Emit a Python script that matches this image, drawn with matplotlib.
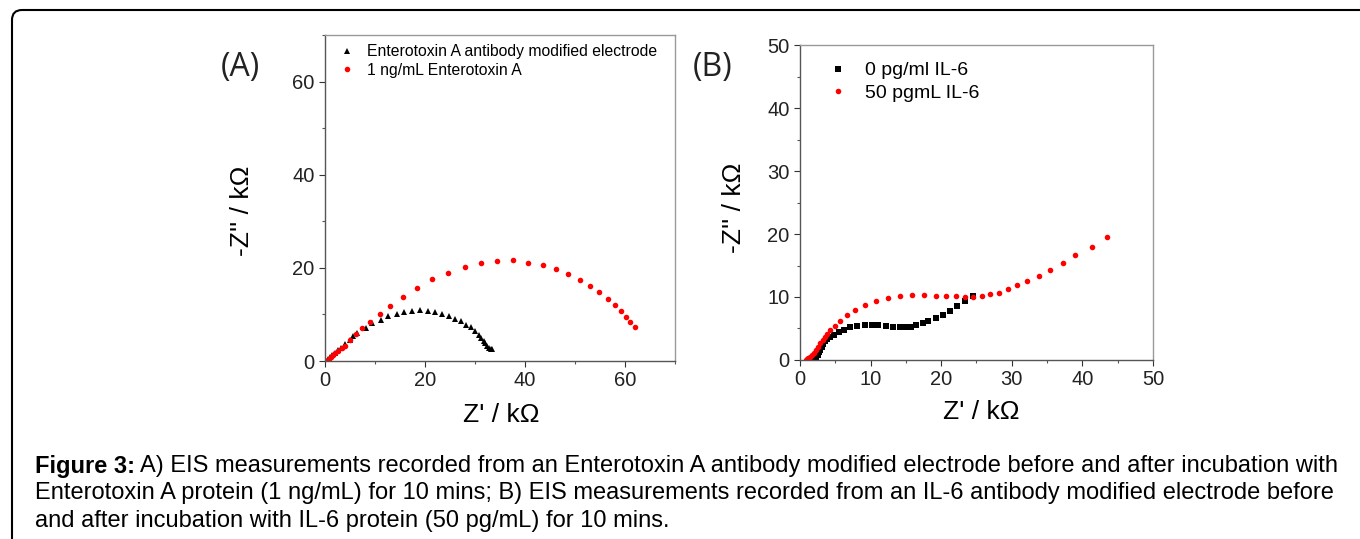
import matplotlib
matplotlib.use("Agg")
import matplotlib.pyplot as plt
from matplotlib.patches import FancyBboxPatch
from matplotlib.ticker import MultipleLocator

plt.rcParams['font.family'] = ['Liberation Sans', 'DejaVu Sans']

# panel A: Enterotoxin A
a_blk_x = [0.3, 0.6, 1.0, 1.4, 1.9, 2.5, 3.2, 4.0, 4.9, 5.6, 6.3, 8.1, 9.4, 11.1, 12.6, 14.3, 15.8,
           17.4, 19.0, 20.6, 22.0, 23.4, 24.7, 26.0, 27.1, 28.1, 29.1, 29.9, 30.7, 31.2, 31.7,
           32.0, 32.4, 32.8, 33.2, 33.4]
a_blk_y = [0.1, 0.4, 0.8, 1.2, 1.7, 2.3, 2.9, 3.7, 4.6, 5.4, 6.1, 7.1, 8.1, 8.9, 9.7, 10.2, 10.6,
           10.8, 10.9, 10.7, 10.5, 10.1, 9.7, 9.1, 8.6, 7.8, 7.2, 6.4, 5.6, 4.9, 4.3,
           3.8, 3.3, 2.9, 2.6, 2.6]
a_red_x = [0.3, 0.5, 0.8, 1.1, 1.5, 2.0, 2.6, 3.3, 4.0, 5.0, 6.1, 7.4, 9.0, 10.9, 13.0, 15.6, 18.3,
           21.4, 24.6, 27.9, 31.2, 34.4, 37.5, 40.6, 43.5, 46.1, 48.5, 50.9, 53.0, 54.8,
           56.5, 57.9, 59.1, 60.1, 60.9, 61.9]
a_red_y = [0.05, 0.25, 0.5, 0.85, 1.25, 1.7, 2.2, 2.7, 3.3, 4.6, 5.9, 7.1, 8.4, 10.1, 11.9, 13.8, 15.7,
           17.6, 19.0, 20.2, 21.1, 21.5, 21.6, 21.1, 20.6, 19.7, 18.7, 17.5, 16.2, 14.8,
           13.4, 12.0, 10.7, 9.4, 8.3, 7.4]

# panel B: IL-6
b_blk_x = [1.5, 1.7, 1.9, 2.1, 2.3, 2.5, 2.7, 2.9, 3.1, 3.3, 3.5, 3.8, 4.2, 4.8, 5.5, 6.2, 7.1,
           8.1, 9.2, 10.2, 11.1, 12.2, 13.2, 14.1, 14.9, 15.7, 16.5, 17.4, 18.2, 19.2, 20.3,
           21.3, 22.3, 23.4, 24.5]
b_blk_y = [0.0, 0.02, 0.1, 0.25, 0.5, 0.8, 1.2, 1.6, 2.1, 2.6, 3.0, 3.3, 3.6, 4.0, 4.4, 4.8, 5.2,
           5.4, 5.6, 5.6, 5.6, 5.4, 5.3, 5.2, 5.2, 5.3, 5.6, 5.9, 6.2, 6.6, 7.1,
           7.8, 8.6, 9.4, 10.2]
b_red_x = [0.8, 1.0, 1.2, 1.4, 1.7, 2.0, 2.3, 2.6, 2.9, 3.2, 3.5, 3.8, 4.3, 4.9, 5.7, 6.6, 7.8,
           9.2, 10.7, 12.4, 14.2, 15.8, 17.6, 19.2, 20.7, 22.1, 23.4, 24.5, 25.8, 26.9,
           28.2, 29.5, 30.8, 32.2, 33.8, 35.4, 37.2, 39.0, 41.3, 43.5]
b_red_y = [0.05, 0.2, 0.35, 0.5, 0.75, 1.1, 1.6, 2.1, 2.7, 3.2, 3.6, 4.1, 4.8, 5.4, 6.2, 7.1, 7.9,
           8.7, 9.4, 9.9, 10.2, 10.3, 10.3, 10.2, 10.1, 10.1, 10.0, 10.0, 10.2, 10.4,
           10.7, 11.2, 11.9, 12.5, 13.4, 14.3, 15.4, 16.6, 18.0, 19.6]

caption = [
    "A) EIS measurements recorded from an Enterotoxin A antibody modified electrode before and after incubation with",
    "Enterotoxin A protein (1 ng/mL) for 10 mins; B) EIS measurements recorded from an IL-6 antibody modified electrode before",
    "and after incubation with IL-6 protein (50 pg/mL) for 10 mins.",
]

fig = plt.figure(figsize=(13.6, 5.39), dpi=100)

# rounded frame
frame = FancyBboxPatch((0.12, -1.0), 14.0, 6.29, boxstyle="round,pad=0,rounding_size=0.1",
                       transform=fig.dpi_scale_trans, fill=False, lw=1.5, ec='black')
fig.patches.append(frame)

axA = fig.add_axes([0.2390, 0.3302, 0.2574, 0.6048])
axB = fig.add_axes([0.5882, 0.3321, 0.2596, 0.5844])

axA.plot(a_blk_x, a_blk_y, '^', color='black', ms=4.5, mew=0, label='Enterotoxin A antibody modified electrode')
axA.plot(a_red_x, a_red_y, 'o', color='red', ms=4, mew=0, label='1 ng/mL Enterotoxin A')
axA.set_xlim(0, 70)
axA.set_ylim(0, 70)
axA.xaxis.set_major_locator(MultipleLocator(20))
axA.xaxis.set_minor_locator(MultipleLocator(10))
axA.yaxis.set_major_locator(MultipleLocator(20))
axA.yaxis.set_minor_locator(MultipleLocator(10))
axA.legend(loc='upper left', bbox_to_anchor=(0.0, 1.005), frameon=False, fontsize=11.3,
           handletextpad=0.6, handlelength=1.4, borderaxespad=0.3, labelspacing=0.2)

axB.plot(b_blk_x, b_blk_y, 's', color='black', ms=4, mew=0, label='0 pg/ml IL-6')
axB.plot(b_red_x, b_red_y, 'o', color='red', ms=4, mew=0, label='50 pgmL IL-6')
axB.set_xlim(0, 50)
axB.set_ylim(0, 50)
axB.xaxis.set_major_locator(MultipleLocator(10))
axB.xaxis.set_minor_locator(MultipleLocator(5))
axB.yaxis.set_major_locator(MultipleLocator(10))
axB.yaxis.set_minor_locator(MultipleLocator(5))
axB.legend(loc='upper left', bbox_to_anchor=(0.03, 0.99), frameon=False, fontsize=14,
           handletextpad=0.7, handlelength=1.4, borderaxespad=0.3, labelspacing=0.25)

for ax in (axA, axB):
    ax.tick_params(which='major', direction='out', length=4, width=0.8, labelsize=14.5, colors='#333333')
    ax.tick_params(which='minor', direction='out', length=2.5, width=0.8, colors='#555555')
    ax.tick_params(labelcolor='#222222')
    for s in ('left', 'bottom'):
        ax.spines[s].set_color('#555555')
        ax.spines[s].set_linewidth(1.0)
    for s in ('top', 'right'):
        ax.spines[s].set_color('#999999')
        ax.spines[s].set_linewidth(1.0)

fig.text(240/1360, 1 - 67/539, '(A)', fontsize=23, family=['Open Sans', 'DejaVu Sans'],
         ha='center', va='center', color='#222222')
fig.text(713/1360, 1 - 67/539, '(B)', fontsize=23, family=['Open Sans', 'DejaVu Sans'],
         ha='center', va='center', color='#222222')

fig.text(242/1360, 1 - 211/539, "-Z'' / k\u03a9", fontsize=19, rotation=90, ha='center', va='center')
fig.text(734/1360, 1 - 208/539, "-Z'' / k\u03a9", fontsize=19, rotation=90, ha='center', va='center')
fig.text(501/1360, 1 - 415/539, "Z' / k\u03a9", fontsize=19, ha='center', va='center')
fig.text(981/1360, 1 - 412/539, "Z' / k\u03a9", fontsize=19, ha='center', va='center')

# caption
cx = 35/1360
fs = 17
lbl = fig.text(cx, 1 - 466/539, "Figure 3:", fontsize=fs, fontweight='bold', ha='left', va='center')
fig.canvas.draw()
bb = lbl.get_window_extent()
fig.text((bb.x1 + 5)/1360, 1 - 466/539, caption[0], fontsize=fs, ha='left', va='center')
fig.text(cx, 1 - 493/539, caption[1], fontsize=fs, ha='left', va='center')
fig.text(cx, 1 - 521/539, caption[2], fontsize=fs, ha='left', va='center')

fig.savefig('out.png', dpi=100)
